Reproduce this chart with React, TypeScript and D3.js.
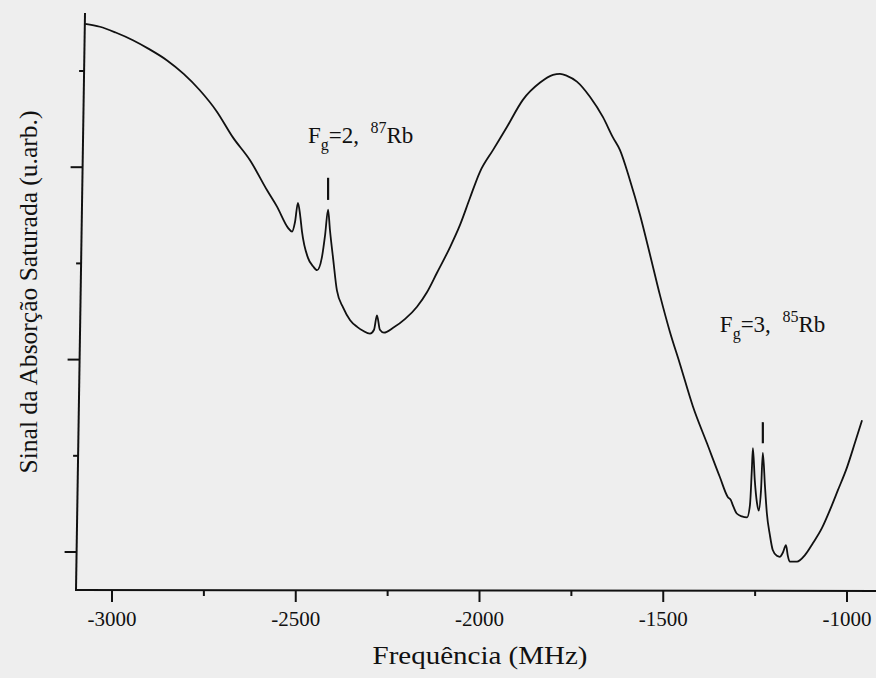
import React from "react";
import * as d3 from "d3";

// Frequency (MHz) and saturated-absorption signal (arb. units)
const freq = [
  -3073, -3033, -2990, -2943, -2900, -2850, -2805, -2761, -2715, -2671, -2624, -2578, -2551, -2521, -2510, -2502, -2494, -2488,
  -2483, -2467, -2453, -2442, -2429, -2420, -2412, -2407, -2398, -2388, -2371, -2352, -2333, -2317,
  -2298, -2287, -2279, -2271, -2260, -2235, -2203, -2170, -2143, -2116, -2080, -2053, -2026, -1999,
  -1963, -1925, -1882, -1835, -1800, -1781, -1762, -1735, -1699, -1664, -1637, -1618, -1591, -1563,
  -1536, -1509, -1482, -1455, -1419, -1381, -1346, -1324, -1316, -1311, -1300, -1286, -1272, -1264,
  -1259, -1256, -1251, -1245, -1240, -1234, -1229, -1223, -1218, -1210, -1202, -1191, -1183, -1175,
  -1166, -1161, -1156, -1136, -1114, -1093, -1068, -1046, -1025, -1000, -978, -959,
];
const signal = [
  6.49, 6.46, 6.4, 6.32, 6.23, 6.11, 5.97, 5.8, 5.58, 5.31, 5.07, 4.76, 4.59, 4.37, 4.33, 4.43, 4.63, 4.5,
  4.33, 4.06, 3.97, 3.93, 4.06, 4.3, 4.56, 4.35, 4.04, 3.72, 3.54, 3.41, 3.34, 3.3,
  3.27, 3.31, 3.46, 3.31, 3.28, 3.33, 3.42, 3.55, 3.7, 3.9, 4.17, 4.4, 4.68, 4.95,
  5.18, 5.42, 5.7, 5.88, 5.96, 5.97, 5.95, 5.89, 5.73, 5.52, 5.31, 5.18, 4.87, 4.5,
  4.09, 3.67, 3.29, 2.96, 2.51, 2.13, 1.78, 1.57, 1.54, 1.49, 1.4, 1.37, 1.36, 1.49,
  1.85, 2.08, 1.75, 1.51, 1.43, 1.64, 2.03, 1.67, 1.4, 1.18, 1.02, 0.96, 0.95, 0.99,
  1.07, 0.96, 0.9, 0.9, 0.97, 1.09, 1.25, 1.44, 1.64, 1.88, 2.14, 2.37,
];

const xTicks = [-3000, -2500, -2000, -1500, -1000];
const xMinorTicks = [-2750, -2250, -1750, -1250];
const yMajorTicks = [1, 3, 5];
const yMinorTicks = [2, 4, 6];

const xTitle = "Frequência (MHz)";
const yTitle = "Sinal da Absorção Saturada (u.arb.)";

// line markers above the lines of interest
const markerFreq = [-2412, -1229];
const markerTop = [4.89, 2.35];
const markerBottom = [4.66, 2.13];

// annotation labels
const labelMain = ["F", "F"];
const labelSub = ["g", "g"];
const labelMid = ["=2,  ", "=3,  "];
const labelSup = ["87", "85"];
const labelEnd = ["Rb", "Rb"];
const labelFreq = [-2467, -1346];
const labelSignal = [5.25, 3.29];

const W = 876;
const H = 678;
const FONT = "Liberation Serif, Times New Roman, Times, serif";

export default function App() {
  const x = d3.scaleLinear().domain([-3000, -1000]).range([112, 847]);
  const y = d3.scaleLinear().domain([1, 6]).range([552, 71]);
  const axisBottomY = 590;
  const axisTopY = 13;
  // slight tilt of the scanned vertical axis
  const axX = (py: number) => 76 + ((axisBottomY - py) * 9) / (axisBottomY - axisTopY);

  const pts: [number, number][] = freq.map((f, i) => [f, signal[i]]);
  const line = d3
    .line<[number, number]>()
    .x((d) => x(d[0]))
    .y((d) => y(d[1]))
    .curve(d3.curveMonotoneX);

  const txt = { fontFamily: FONT, fill: "#111" } as React.CSSProperties;

  return (
    <svg
      width={W}
      height={H}
      style={{ position: "absolute", left: 0, top: 0, display: "block", background: "#eeeeee" }}
    >
      <rect x={0} y={0} width={W} height={H} fill="#eeeeee" />
      {/* axes */}
      <line x1={axX(axisTopY)} y1={axisTopY} x2={axX(axisBottomY)} y2={axisBottomY} stroke="#111" strokeWidth={2} />
      <line x1={axX(axisBottomY) - 1} y1={axisBottomY} x2={W} y2={axisBottomY + 1} stroke="#111" strokeWidth={2} />
      {xTicks.map((t) => (
        <g key={"xt" + t}>
          <line x1={x(t)} x2={x(t)} y1={axisBottomY} y2={axisBottomY + 12} stroke="#111" strokeWidth={2} />
          <text x={x(t)} y={626} textAnchor="middle" style={{ ...txt, fontSize: 21 }}>
            {t}
          </text>
        </g>
      ))}
      {xMinorTicks.map((t) => (
        <line key={"xm" + t} x1={x(t)} x2={x(t)} y1={axisBottomY} y2={axisBottomY + 6} stroke="#111" strokeWidth={2} />
      ))}
      {yMajorTicks.map((t) => (
        <line key={"ym" + t} x1={axX(y(t)) - 12} x2={axX(y(t))} y1={y(t)} y2={y(t)} stroke="#111" strokeWidth={2} />
      ))}
      {yMinorTicks.map((t) => (
        <line key={"yn" + t} x1={axX(y(t)) - 5} x2={axX(y(t))} y1={y(t)} y2={y(t)} stroke="#111" strokeWidth={2} />
      ))}
      {/* titles */}
      <text
        x={480}
        y={664}
        textAnchor="middle"
        style={{ ...txt, fontSize: 26 }}
        textLength={215}
        lengthAdjust="spacingAndGlyphs"
      >
        {xTitle}
      </text>
      <text
        transform="translate(37,292) rotate(-90)"
        textAnchor="middle"
        style={{ ...txt, fontSize: 26 }}
        textLength={363}
        lengthAdjust="spacingAndGlyphs"
      >
        {yTitle}
      </text>
      {/* data */}
      <path d={line(pts) || ""} fill="none" stroke="#111" strokeWidth={1.8} strokeLinejoin="round" />
      {/* markers */}
      {markerFreq.map((f, i) => (
        <line
          key={"mk" + i}
          x1={x(f)}
          x2={x(f)}
          y1={y(markerTop[i])}
          y2={y(markerBottom[i])}
          stroke="#111"
          strokeWidth={2.2}
        />
      ))}
      {/* labels */}
      {labelFreq.map((f, i) => (
        <text key={"lb" + i} x={x(f)} y={y(labelSignal[i])} style={{ ...txt, fontSize: 23, whiteSpace: "pre" }}>
          <tspan>{labelMain[i]}</tspan>
          <tspan style={{ fontSize: 16 }} dy={7}>{labelSub[i]}</tspan>
          <tspan dy={-7}>{labelMid[i]}</tspan>
          <tspan style={{ fontSize: 16 }} dy={-10}>{labelSup[i]}</tspan>
          <tspan dy={10}>{labelEnd[i]}</tspan>
        </text>
      ))}
    </svg>
  );
}
